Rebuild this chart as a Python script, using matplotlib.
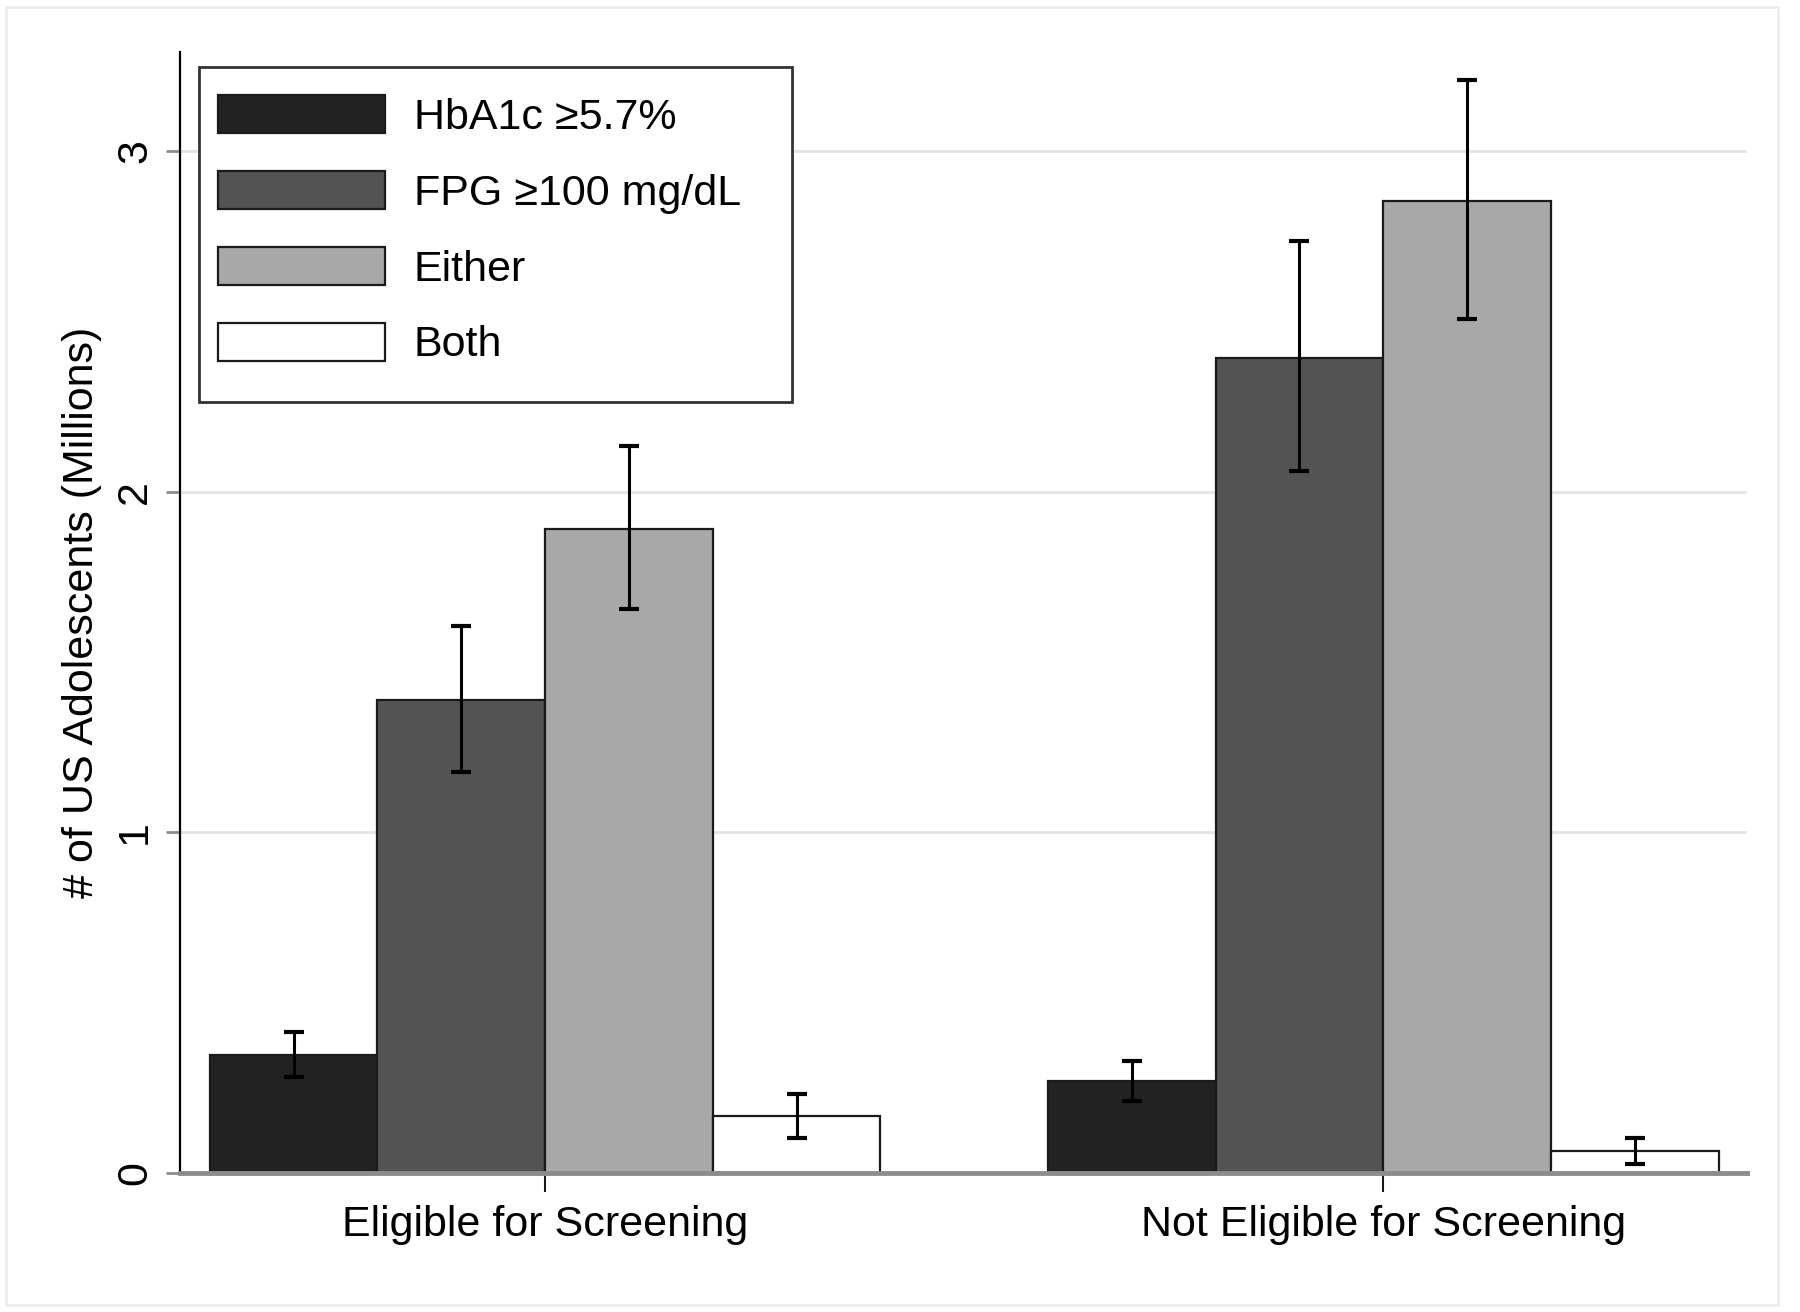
import numpy as np
import matplotlib
matplotlib.use('Agg')
import matplotlib.pyplot as plt
from matplotlib.patches import Rectangle

plt.rcParams['font.family'] = ['Liberation Sans', 'DejaVu Sans']

groups = ['Eligible for Screening', 'Not Eligible for Screening']
series = ['HbA1c \u22655.7%', 'FPG \u2265100 mg/dL', 'Either', 'Both']
colors = ['#222222', '#535353', '#a8a8a8', '#ffffff']

hba1c = [0.347, 0.269]
hba1c_lo = [0.283, 0.212]
hba1c_hi = [0.414, 0.330]

fpg = [1.39, 2.394]
fpg_lo = [1.178, 2.06]
fpg_hi = [1.606, 2.737]

either = [1.892, 2.855]
either_lo = [1.657, 2.508]
either_hi = [2.135, 3.209]

both = [0.168, 0.064]
both_lo = [0.104, 0.027]
both_hi = [0.232, 0.104]

vals = [hba1c, fpg, either, both]
los = [hba1c_lo, fpg_lo, either_lo, both_lo]
his = [hba1c_hi, fpg_hi, either_hi, both_hi]

fig = plt.figure(figsize=(18, 13.12), dpi=100)
ax = fig.add_axes([0.1, 0.106, 0.8706, 0.854])

x = np.arange(len(groups))
w = 0.2
handles = []
for i in range(4):
    pos = x + (i - 1.5) * w
    v = np.array(vals[i])
    err = [v - np.array(los[i]), np.array(his[i]) - v]
    b = ax.bar(pos, v, w, color=colors[i], edgecolor='#1a1a1a', linewidth=1.6,
               label=series[i], zorder=2)
    handles.append(b)
    ax.errorbar(pos, v, yerr=err, fmt='none', ecolor='black', elinewidth=2.2,
                capsize=7.5, capthick=3, zorder=3)

ax.set_xlim(-0.4356, 1.434)
ax.set_ylim(0, 3.29)
ax.set_yticks([0, 1, 2, 3])
ax.set_yticklabels(['0', '1', '2', '3'], rotation=90, va='center', fontsize=31)
ax.set_xticks(x)
ax.set_xticklabels(groups, fontsize=31)
ax.tick_params(axis='y', length=10, width=2, color='#8c8c8c', pad=8)
ax.tick_params(axis='x', length=14, width=1.5, color='#1a1a1a', pad=9)
ax.set_ylabel('# of US Adolescents (Millions)', fontsize=31)
ax.yaxis.set_label_coords(-0.05, 0.5)

ax.yaxis.grid(True, color='#e6e6e6', linewidth=2.2, zorder=0)
ax.set_axisbelow(True)
for g in ax.get_ygridlines()[:1]:
    g.set_visible(False)
ax.spines['top'].set_visible(False)
ax.spines['right'].set_visible(False)
ax.spines['left'].set_color('black')
ax.spines['left'].set_linewidth(1.6)
ax.spines['bottom'].set_color('#8c8c8c')
ax.spines['bottom'].set_linewidth(3.5)

# legend frame drawn by hand
fig.patches.append(Rectangle((199 / 1800, 1 - 402 / 1312), 593 / 1800, 335 / 1312,
                             transform=fig.transFigure, facecolor='white',
                             edgecolor='#333333', linewidth=2, zorder=5))
leg = fig.legend(handles=handles, labels=series, loc='upper left',
                 bbox_to_anchor=(218 / 1800, 1 - 95 / 1312), frameon=False,
                 fontsize=31, handlelength=3.88, handleheight=0.98,
                 labelspacing=0.77, handletextpad=0.67, borderpad=0,
                 borderaxespad=0)
leg.set_zorder(6)

# outer light frame
fig.patches.append(Rectangle((6 / 1800, 7 / 1312), 1772 / 1800, 1298 / 1312,
                             transform=fig.transFigure, facecolor='none',
                             edgecolor='#ececec', linewidth=2))

fig.savefig('out.png', dpi=100)
